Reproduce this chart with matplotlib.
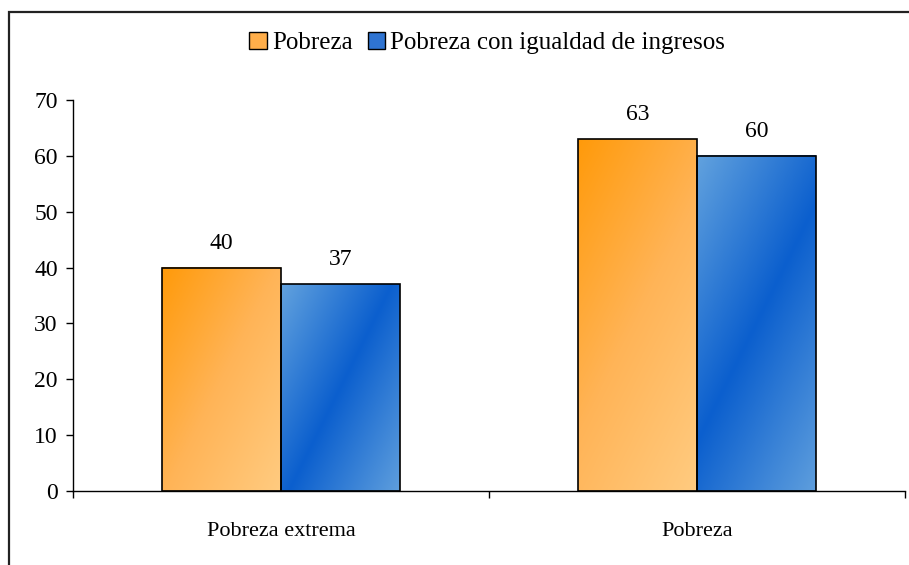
import numpy as np
import matplotlib
matplotlib.use("Agg")
import matplotlib.pyplot as plt
from matplotlib.colors import LinearSegmentedColormap
from matplotlib.patches import Rectangle, Patch

categories = ["Pobreza extrema", "Pobreza"]
series_names = ["Pobreza", "Pobreza con igualdad de ingresos"]
pobreza = [40, 63]
pobreza_igualdad = [37, 60]

plt.rcParams["font.family"] = ["Liberation Serif", "DejaVu Serif"]
plt.rcParams["font.size"] = 16

orange_cmap = LinearSegmentedColormap.from_list("orange", ["#FF9A0A", "#FFB457", "#FFCB80"])
blue_cmap = LinearSegmentedColormap.from_list("blue", ["#62A2DE", "#0B5FCE", "#5E9EDD"])

fig = plt.figure(figsize=(9.09, 5.65), dpi=100)
ax = fig.add_axes([0.0803, 0.131, 0.9153, 0.692])

x = np.arange(len(categories))
width = 0.286

ax.set_xlim(-0.5, 1.5)
ax.set_ylim(0, 70)


def gradient_bar(xc, h, cmap):
    # empty bar, then a diagonal gradient image clipped to it
    bar = ax.bar(xc, h, width, facecolor="none", edgecolor="black", linewidth=1.2, zorder=3)[0]
    p0 = ax.transData.transform((xc - width / 2, h))
    p1 = ax.transData.transform((xc + width / 2, 0))
    wpx = abs(p1[0] - p0[0])
    hpx = abs(p1[1] - p0[1])
    nx, ny = 200, 300
    u = np.linspace(0, 1, nx)[None, :] * wpx
    s = np.linspace(0, 1, ny)[:, None] * hpx  # 0 at top of bar
    t = u + 0.5 * s
    t = (t - t.min()) / (t.max() - t.min())
    ax.imshow(t, cmap=cmap, extent=(xc - width / 2, xc + width / 2, 0, h),
              aspect="auto", origin="upper", zorder=2, clip_path=bar, clip_on=True,
              interpolation="bilinear")
    return bar


for i in range(len(categories)):
    gradient_bar(x[i] - width / 2, pobreza[i], orange_cmap)
    gradient_bar(x[i] + width / 2, pobreza_igualdad[i], blue_cmap)
    ax.annotate(str(pobreza[i]), (x[i] - width / 2, pobreza[i]), xytext=(0, 10),
                textcoords="offset points", ha="center", va="bottom", fontsize=17)
    ax.annotate(str(pobreza_igualdad[i]), (x[i] + width / 2, pobreza_igualdad[i]), xytext=(0, 10),
                textcoords="offset points", ha="center", va="bottom", fontsize=17)

ax.set_xlim(-0.5, 1.5)
ax.set_ylim(0, 70)
ax.set_yticks(range(0, 71, 10))
ax.set_xticks(x)
ax.set_xticklabels(categories)
ax.set_xticks([-0.5, 0.5, 1.5], minor=True)
ax.tick_params(axis="x", which="major", length=0, pad=22)
ax.tick_params(axis="x", which="minor", length=5, width=1, direction="out")
ax.tick_params(axis="y", length=5, width=1, direction="out", pad=6, labelsize=17)

for side in ["top", "right"]:
    ax.spines[side].set_visible(False)
for side in ["left", "bottom"]:
    ax.spines[side].set_linewidth(1)

handles = [Patch(facecolor="#FFAE4A", edgecolor="black"),
           Patch(facecolor="#2F74D2", edgecolor="black")]
fig.legend(handles, series_names, loc="center", bbox_to_anchor=(0.536, 0.924), ncol=2,
           frameon=False, fontsize=18, handlelength=0.7, handleheight=0.7, handletextpad=0.2,
           columnspacing=0.6)

# outer chart border, runs off the right and bottom of the picture
fig.patches.append(Rectangle((9 / 909, -0.2), 1.2, 1 - 12 / 565 + 0.2, transform=fig.transFigure,
                             fill=False, edgecolor="#222222", linewidth=1.6, clip_on=False))

fig.savefig("out.png", dpi=100)
